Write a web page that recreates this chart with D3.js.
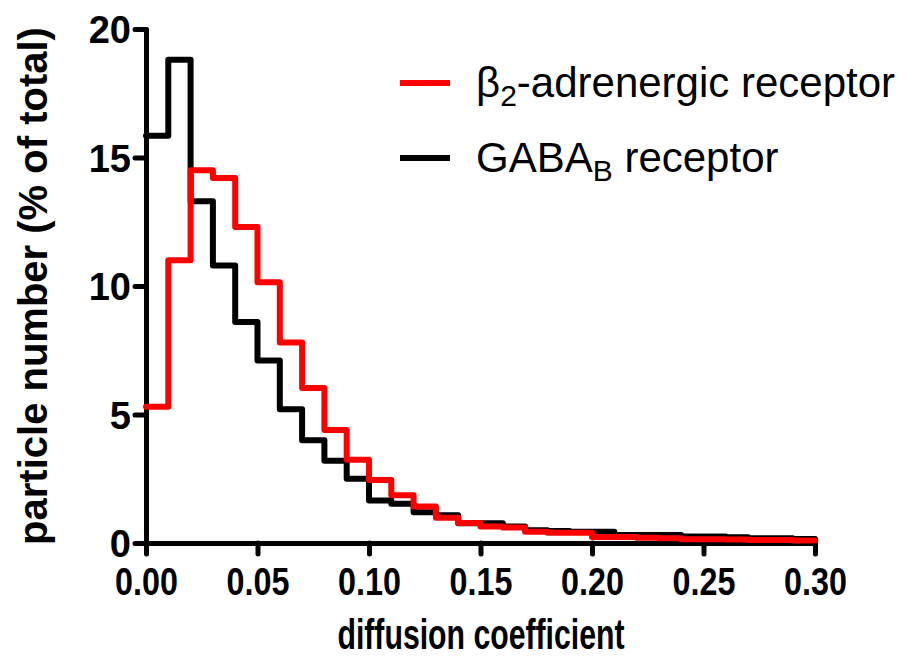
<!DOCTYPE html>
<html>
<head>
<meta charset="utf-8">
<script src="https://cdn.jsdelivr.net/npm/d3@7"></script>
<style>
  html, body { margin: 0; padding: 0; background: #fff; }
  svg { display: block; }
  text { font-family: "Liberation Sans", Arial, sans-serif; }
</style>
</head>
<body>
<svg id="chart" width="907" height="659"></svg>
<script>
// ---- data ----
const binStarts = [0.00,0.01,0.02,0.03,0.04,0.05,0.06,0.07,0.08,0.09,
                   0.10,0.11,0.12,0.13,0.14,0.15,0.16,0.17,0.18,0.19,
                   0.20,0.21,0.22,0.23,0.24,0.25,0.26,0.27,0.28,0.29];
const binEnd = 0.30;
const gabaB = [15.85,18.8,13.3,10.8,8.6,7.1,5.2,4.0,3.2,2.5,
               1.65,1.53,1.2,1.08,0.77,0.77,0.64,0.5,0.47,0.44,
               0.44,0.31,0.31,0.31,0.25,0.25,0.22,0.18,0.18,0.16];
const beta2 = [5.3,11.0,14.5,14.2,12.3,10.15,7.8,6.03,4.4,3.24,
               2.45,1.86,1.42,0.98,0.78,0.64,0.6,0.44,0.4,0.4,
               0.23,0.23,0.2,0.18,0.15,0.15,0.14,0.12,0.12,0.1];
const xTicks = [0, 0.05, 0.10, 0.15, 0.20, 0.25, 0.30];
const yTicks = [0, 5, 10, 15, 20];
const seriesColors = { beta2: "#ff0000", gabaB: "#000000" };

// ---- layout ----
const svg = d3.select("#chart");
const x = d3.scaleLinear().domain([0, 0.30]).range([146, 815]);
const y = d3.scaleLinear().domain([0, 20]).range([543, 29]);

const xAxis = d3.axisBottom(x).tickValues(xTicks).tickFormat(d3.format(".2f")).tickSize(11).tickPadding(0).tickSizeOuter(0);
const yAxis = d3.axisLeft(y).tickValues(yTicks).tickFormat(d3.format("d")).tickSize(11).tickPadding(4).tickSizeOuter(0);

function styleAxis(g) {
  g.select(".domain").attr("stroke", "#000").attr("stroke-width", 5).attr("stroke-linecap", "round");
  g.selectAll(".tick line").attr("stroke", "#000").attr("stroke-width", 5).attr("stroke-linecap", "round");
  g.selectAll(".tick text").attr("fill", "#000")
    .style("font-weight", "bold")
    .style("font-family", "'Liberation Sans', Arial, sans-serif");
}

const gx = svg.append("g").attr("transform", `translate(0,${y(0)})`).call(xAxis).call(styleAxis);
gx.selectAll(".tick text")
  .style("font-size", "38px")
  .attr("dy", null).attr("y", null)
  .attr("transform", "translate(0,52) scale(0.85,1)");
const gy = svg.append("g").attr("transform", `translate(${x(0)},0)`).call(yAxis).call(styleAxis);
gy.selectAll(".tick text").style("font-size", "38px").attr("dy", "0.36em");

// step lines
function stepData(vals) {
  const pts = binStarts.map((b, i) => [b, vals[i]]);
  pts.push([binEnd, vals[vals.length - 1]]);
  return pts;
}
const line = d3.line().x(d => x(d[0])).y(d => y(d[1])).curve(d3.curveStepAfter);

svg.append("path")
  .attr("d", line(stepData(gabaB)))
  .attr("fill", "none").attr("stroke", seriesColors.gabaB)
  .attr("stroke-width", 6).attr("stroke-linejoin", "round").attr("stroke-linecap", "round");
svg.append("path")
  .attr("d", line(stepData(beta2)))
  .attr("fill", "none").attr("stroke", seriesColors.beta2)
  .attr("stroke-width", 6).attr("stroke-linejoin", "round").attr("stroke-linecap", "round");

// axis titles
svg.append("text")
  .attr("transform", "translate(481,649) scale(0.72,1)")
  .attr("text-anchor", "middle")
  .style("font-size", "42px").style("font-weight", "bold")
  .text("diffusion coefficient");

svg.append("text")
  .attr("transform", `translate(47,${(y(0)+y(20))/2}) rotate(-90)`)
  .attr("text-anchor", "middle")
  .style("font-size", "40px").style("font-weight", "bold")
  .text("particle number (% of total)");

// legend
const legend = svg.append("g");
const legY = [83, 158];
legend.append("line").attr("x1", 400).attr("x2", 450).attr("y1", legY[0]).attr("y2", legY[0])
  .attr("stroke", seriesColors.beta2).attr("stroke-width", 6);
const t1 = legend.append("text").attr("x", 476).attr("y", legY[0] + 14).style("font-size", "42px");
t1.append("tspan").text("β");
t1.append("tspan").attr("dy", 9).style("font-size", "30px").text("2");
t1.append("tspan").attr("dy", -9).text("-adrenergic receptor");
legend.append("line").attr("x1", 400).attr("x2", 450).attr("y1", legY[1]).attr("y2", legY[1])
  .attr("stroke", seriesColors.gabaB).attr("stroke-width", 6);
const t2 = legend.append("text").attr("x", 476).attr("y", legY[1] + 14).style("font-size", "42px");
t2.append("tspan").text("GABA");
t2.append("tspan").attr("dy", 9).style("font-size", "30px").text("B");
t2.append("tspan").attr("dy", -9).text(" receptor");
</script>
</body>
</html>
